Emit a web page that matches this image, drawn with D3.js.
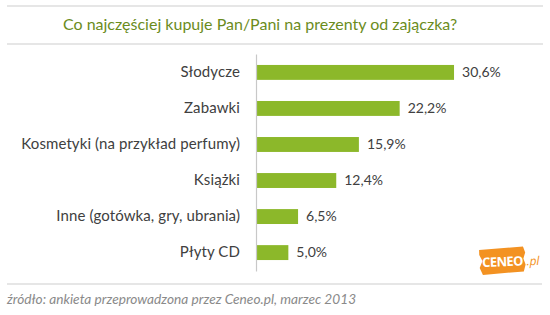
<!DOCTYPE html>
<html>
<head>
<meta charset="utf-8">
<script src="https://cdn.jsdelivr.net/npm/d3@7"></script>
<style>
  body { margin: 0; background: #fff; }
  svg { display: block; }
</style>
</head>
<body>
<script>
// categories and values
var categories = ["Słodycze", "Zabawki", "Kosmetyki (na przykład perfumy)", "Książki", "Inne (gotówka, gry, ubrania)", "Płyty CD"];
var values = [30.6, 22.2, 15.9, 12.4, 6.5, 5.0];
var valueLabels = ["30,6%", "22,2%", "15,9%", "12,4%", "6,5%", "5,0%"];
var title = "Co najczęściej kupuje Pan/Pani na prezenty od zajączka?";
var source = "źródło: ankieta przeprowadzona przez Ceneo.pl, marzec 2013";

var width = 550, height = 315;
var font = "Lato, 'Open Sans', sans-serif";

var svg = d3.select("body").append("svg")
    .attr("width", width)
    .attr("height", height);

// title with the grey rules above and below
svg.append("line").attr("x1", 7).attr("x2", 543).attr("y1", 6).attr("y2", 6)
    .attr("stroke", "#dedede").attr("stroke-width", 1.5);
svg.append("line").attr("x1", 7).attr("x2", 543).attr("y1", 44).attr("y2", 44)
    .attr("stroke", "#dedede").attr("stroke-width", 1.5);
svg.append("text")
    .attr("x", 260).attr("y", 30)
    .attr("text-anchor", "middle")
    .style("font-family", font).style("font-size", "16px")
    .style("fill", "#6b8c1c")
    .text(title);

// scales
var x = d3.scaleLinear().domain([0, 35]).range([256, 482.5]);
var y = d3.scaleBand().domain(categories).range([54, 271])
    .paddingInner(0.586).paddingOuter(0.304);

var rows = svg.selectAll("g.row")
    .data(values)
    .enter().append("g")
    .attr("class", "row");

rows.append("rect")
    .attr("x", x(0) + 1)
    .attr("y", function(d, i) { return y(categories[i]); })
    .attr("width", function(d) { return x(d) - x(0) - 1; })
    .attr("height", y.bandwidth())
    .attr("fill", "#8cb82a");

rows.append("text")
    .attr("x", function(d) { return x(d) + 8; })
    .attr("y", function(d, i) { return y(categories[i]) + y.bandwidth() / 2; })
    .attr("dy", ".35em")
    .style("font-family", font).style("font-size", "14px")
    .style("fill", "#404040")
    .text(function(d, i) { return valueLabels[i]; });

// left axis, category labels only
var yAxis = d3.axisLeft(y).tickSize(0).tickPadding(16);
var ax = svg.append("g")
    .attr("transform", "translate(256,0)")
    .call(yAxis);
ax.select(".domain").attr("stroke", "#c8c8c8").attr("stroke-width", 1.2);
ax.selectAll("text")
    .style("font-family", font).style("font-size", "15px")
    .style("letter-spacing", "0.1px")
    .style("fill", "#404040");

// bottom rule and source
svg.append("line").attr("x1", 7).attr("x2", 542).attr("y1", 284).attr("y2", 284)
    .attr("stroke", "#dedede").attr("stroke-width", 1.5);
svg.append("text")
    .attr("x", 7).attr("y", 304)
    .style("font-family", font).style("font-size", "13.7px")
    .style("font-style", "italic")
    .style("fill", "#8a8a8a")
    .text(source);

// Ceneo logo
var logo = svg.append("g").attr("transform", "translate(479,248) rotate(-2)");
logo.append("path")
    .attr("d", "M0,2 L44,0 L46,6 L44,12 L46,18 L44,25 L3,27 L0,20 L3,13 L0,7 Z")
    .attr("fill", "#f39222");
logo.append("text")
    .attr("x", 23).attr("y", 19)
    .attr("text-anchor", "middle")
    .style("font-family", "'Open Sans', sans-serif").style("font-size", "13px")
    .style("font-weight", "bold").style("letter-spacing", "-0.6px")
    .style("fill", "#fff")
    .text("CENEO");
logo.append("text")
    .attr("x", 47).attr("y", 19)
    .style("font-family", "'Open Sans', sans-serif").style("font-size", "12px")
    .style("font-style", "italic")
    .style("fill", "#f39222")
    .text(".pl");
</script>
</body>
</html>
